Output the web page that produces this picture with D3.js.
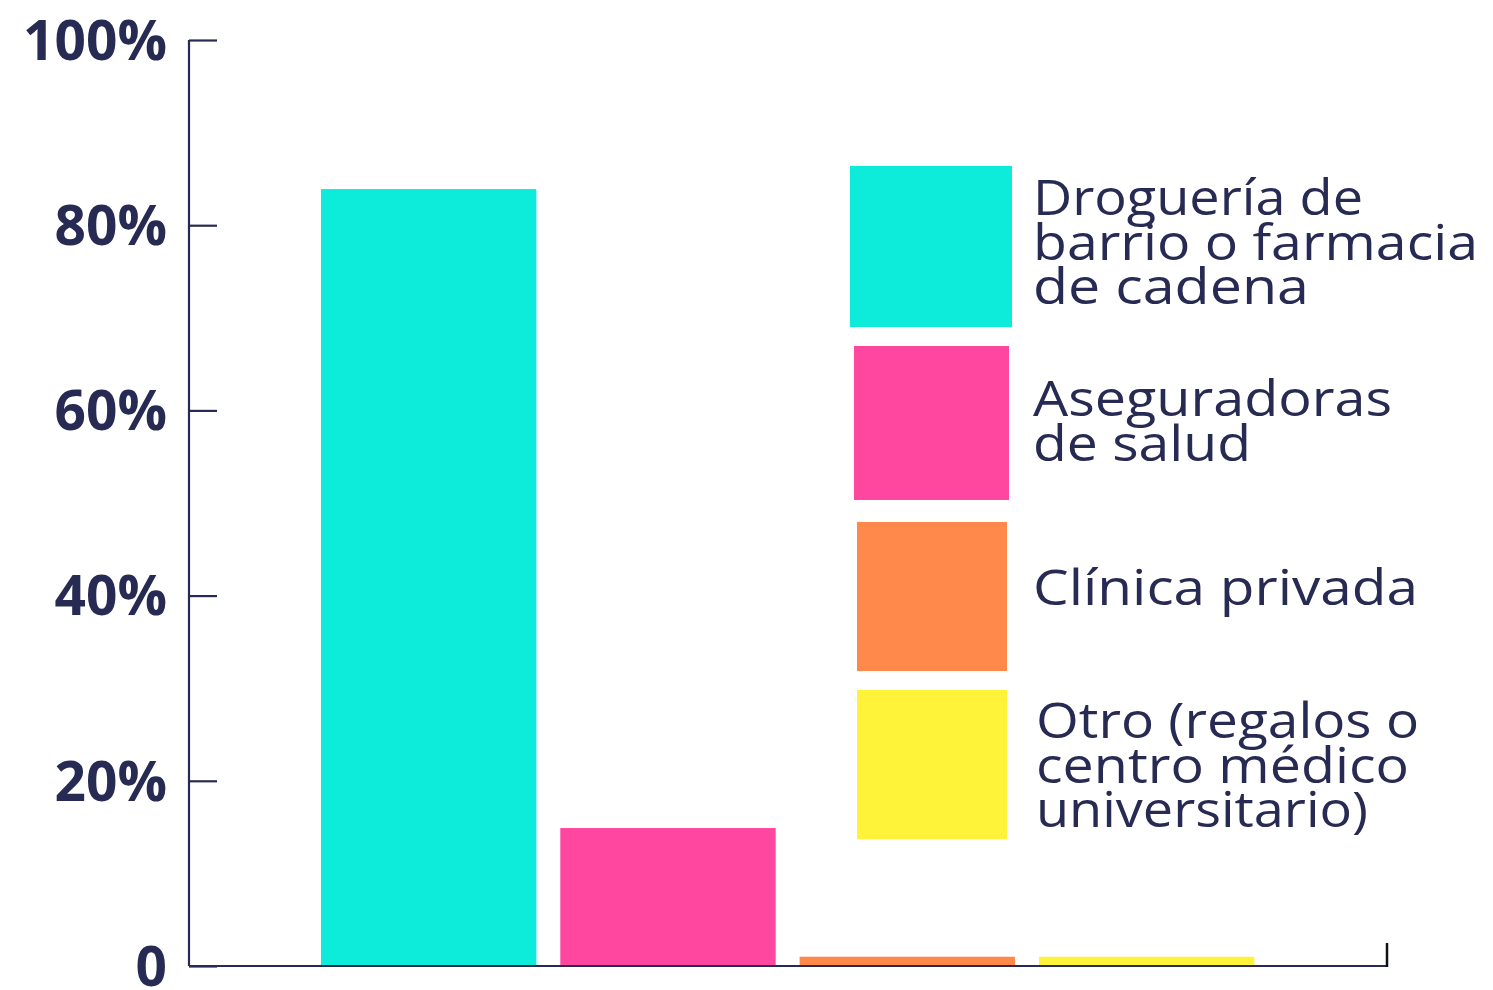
<!DOCTYPE html>
<html>
<head>
<meta charset="utf-8">
<script src="https://cdn.jsdelivr.net/npm/d3@7"></script>
<style>
  html, body { margin: 0; padding: 0; background: #ffffff; }
  svg { display: block; }
</style>
</head>
<body>
<svg id="chart" width="1493" height="990"></svg>
<script>
// ---- data ----
const categories = ["Droguería de barrio o farmacia de cadena", "Aseguradoras de salud", "Clínica privada", "Otro (regalos o centro médico universitario)"];
const values = [83.9, 14.9, 1, 1];
const colors = ["#0DEBDA", "#FF479F", "#FF894B", "#FFF33A"];
const tickValues = [0, 20, 40, 60, 80, 100];
const tickLabels = ["0", "20%", "40%", "60%", "80%", "100%"];
const legendLines = [
  ["Droguería de", "barrio o farmacia", "de cadena"],
  ["Aseguradoras", "de salud"],
  ["Clínica privada"],
  ["Otro (regalos o", "centro médico", "universitario)"]
];

// ---- layout ----
const ink = "#272A52";
const svg = d3.select("#chart");
const y = d3.scaleLinear().domain([0, 100]).range([966, 40]);
const x = d3.scaleBand().domain(categories).range([309, 1266.3]).paddingInner(0.1).paddingOuter(0.05);
const axisX = 189;

// bars
svg.append("g").selectAll("rect").data(categories).join("rect")
  .attr("x", d => x(d))
  .attr("width", x.bandwidth())
  .attr("y", (d, i) => y(values[i]))
  .attr("height", (d, i) => y(0) - y(values[i]))
  .attr("fill", (d, i) => colors[i]);

// y axis
const yAxis = d3.axisRight(y).tickValues(tickValues).tickSize(28).tickFormat((d, i) => "");
const ga = svg.append("g").attr("transform", `translate(${axisX},0)`).call(yAxis);
ga.select(".domain").attr("d", `M0,${y(100)}V${y(0)}`).attr("stroke", ink).attr("stroke-width", 2.2);
ga.selectAll(".tick line").attr("stroke", ink).attr("stroke-width", 2.2);

// tick labels
svg.append("g").selectAll("text").data(tickValues).join("text")
  .attr("x", 167)
  .attr("y", d => y(d))
  .attr("dy", "0.36em")
  .attr("text-anchor", "end")
  .attr("font-family", "'Open Sans', sans-serif")
  .attr("font-weight", 700)
  .attr("font-size", 55)
  .attr("fill", ink)
  .text((d, i) => tickLabels[i]);

// baseline
svg.append("line").attr("x1", axisX).attr("x2", 1387).attr("y1", y(0)).attr("y2", y(0))
  .attr("stroke", ink).attr("stroke-width", 2.2);
svg.append("line").attr("x1", 1387).attr("x2", 1387).attr("y1", y(0) - 23).attr("y2", y(0) + 1)
  .attr("stroke", "#111").attr("stroke-width", 2.5);

// legend
const swatches = [
  {x: 850, y: 166, w: 162, h: 161},
  {x: 854, y: 346, w: 155, h: 154},
  {x: 857, y: 522, w: 150, h: 149},
  {x: 857, y: 690, w: 150, h: 149}
];
const textStart = [{x: 1033, y: 215}, {x: 1033, y: 416}, {x: 1033, y: 605}, {x: 1036, y: 738}];
const lineWidths = [[330, 445, 276], [359, 218], [385], [383, 373, 332]];
const lg = svg.append("g");
categories.forEach((c, i) => {
  const s = swatches[i];
  lg.append("rect").attr("x", s.x).attr("y", s.y).attr("width", s.w).attr("height", s.h).attr("fill", colors[i]);
  legendLines[i].forEach((ln, j) => {
    lg.append("text")
      .attr("x", textStart[i].x)
      .attr("y", textStart[i].y + j * 44.5)
      .attr("font-family", "'Open Sans', sans-serif")
      .attr("font-size", 49)
      .attr("fill", ink)
      .attr("textLength", lineWidths[i][j])
      .attr("lengthAdjust", "spacingAndGlyphs")
      .text(ln);
  });
});
</script>
</body>
</html>
